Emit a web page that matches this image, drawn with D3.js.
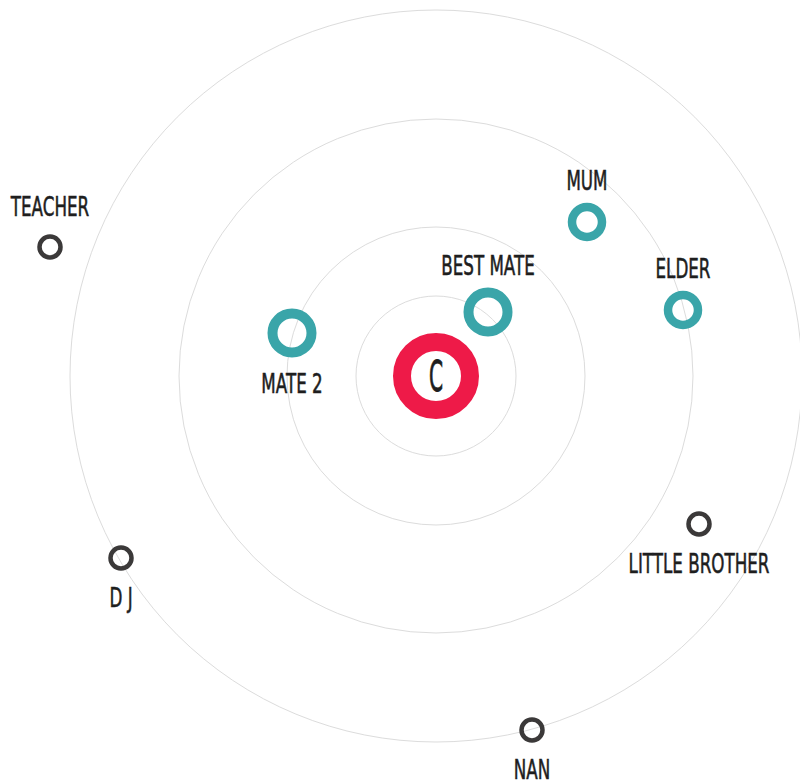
<!DOCTYPE html>
<html>
<head>
<meta charset="utf-8">
<script src="https://cdn.jsdelivr.net/npm/d3@7"></script>
<style>
  html, body { margin: 0; padding: 0; background: #fff; }
  svg { display: block; }
  text { font-family: "DejaVu Sans", sans-serif; }
</style>
</head>
<body>
<svg id="chart" width="800" height="780"></svg>
<script>
// orbit rings (distance from centre)
const ringLevels = [80, 149, 257, 366];

// people on the map
const names = ["C", "BEST MATE", "MATE 2", "MUM", "ELDER", "TEACHER", "D J", "LITTLE BROTHER", "NAN"];
const offsetX = [0, 52, -144, 151, 247, -386, -315, 263, 96];
const offsetY = [0, -64, -43, -154, -66, -129, 182, 148, 354];
const tiers = ["self", "close", "close", "mid", "mid", "far", "far", "far", "far"];
const labelSide = ["center", "above", "below", "above", "above", "above", "below", "below", "below"];

const tierStyle = {
  self:  { r: 34,   sw: 18,  color: "#ee1a48" },
  close: { r: 19.5, sw: 10,  color: "#3aa5a9" },
  mid:   { r: 15,   sw: 8.5, color: "#3aa5a9" },
  far:   { r: 10.5, sw: 4.5, color: "#3b3939" }
};

const cx = 436, cy = 376;
const svg = d3.select("#chart");

const x = d3.scaleLinear().domain([-400, 400]).range([cx - 400, cx + 400]);
const y = d3.scaleLinear().domain([-400, 400]).range([cy - 400, cy + 400]);
const rScale = d3.scaleLinear().domain([0, 400]).range([0, 400]);

svg.append("g")
  .selectAll("circle")
  .data(ringLevels)
  .enter()
  .append("circle")
  .attr("cx", x(0))
  .attr("cy", y(0))
  .attr("r", d => rScale(d))
  .attr("fill", "none")
  .attr("stroke", "#dcdcdc")
  .attr("stroke-width", 1);

const people = names.map((name, i) => ({
  name,
  dx: offsetX[i],
  dy: offsetY[i],
  tier: tiers[i],
  side: labelSide[i]
}));

const node = svg.append("g")
  .selectAll("g.node")
  .data(people)
  .enter()
  .append("g")
  .attr("class", "node")
  .attr("transform", d => `translate(${x(d.dx)},${y(d.dy)})`);

node.append("circle")
  .attr("r", d => tierStyle[d.tier].r)
  .attr("fill", "none")
  .attr("stroke", d => tierStyle[d.tier].color)
  .attr("stroke-width", d => tierStyle[d.tier].sw);

// narrow hand-lettered look: squeeze the glyphs horizontally
node.append("text")
  .attr("text-anchor", "middle")
  .attr("fill", "#1e1e1e")
  .attr("stroke", "#1e1e1e")
  .attr("stroke-width", d => d.side === "center" ? 0.9 : 0.6)
  .attr("font-size", d => d.side === "center" ? "42px" : "27px")
  .attr("transform", d => d.side === "center" ? "scale(0.48,1)" : "scale(0.62,1)")
  .attr("y", d => {
    const s = tierStyle[d.tier];
    const outer = s.r + s.sw / 2;
    if (d.side === "center") return 15;
    if (d.side === "above") return -outer - (d.tier === "far" ? 18 : 13);
    return outer + 36;
  })
  .text(d => d.name);
</script>
</body>
</html>
